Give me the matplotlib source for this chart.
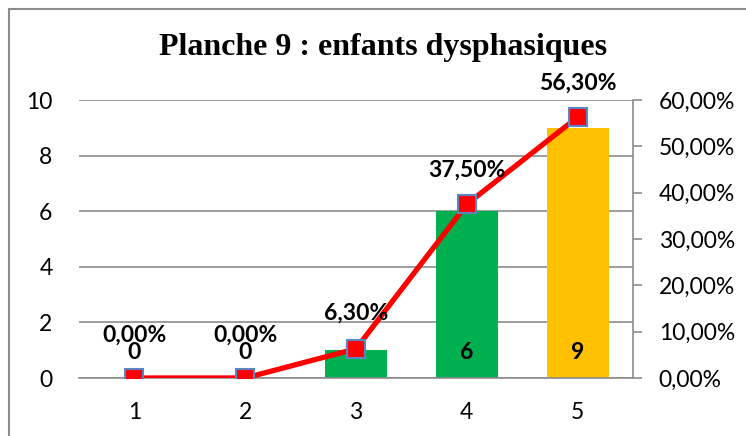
"""Planche 9: bar counts with cumulative percentage line (twin axis)."""

import matplotlib
matplotlib.use("Agg")
import matplotlib.pyplot as plt
from matplotlib.patches import Rectangle
from matplotlib.ticker import FuncFormatter, MultipleLocator

categories = [1, 2, 3, 4, 5]
counts = [0, 0, 1, 6, 9]
percents = [0.0, 0.0, 0.063, 0.375, 0.563]
bar_colors = ["#00B050", "#00B050", "#00B050", "#00B050", "#FFC000"]

TITLE = "Planche 9 : enfants dysphasiques"
GRID = "#8C8C8C"
TICK_FONT = "Lato"
FS = 16.5

# vertical offset (pixels) of each percentage label above its marker
pct_offsets = [43, 43, 36, 34, 34]


def fr_pct(v, _pos=None):
    return f"{v * 100:.2f}%".replace(".", ",")


fig = plt.figure(figsize=(7.46, 4.36), dpi=100)
fig.patches.append(Rectangle((9 / 746, -0.05), 1.1, 0.05 + 1 - 9 / 436,
                             transform=fig.transFigure, fill=False,
                             edgecolor="#8C8C8C", linewidth=1.5))

ax = fig.add_axes([79 / 746, 1 - 378 / 436, (633 - 79) / 746, (378 - 100) / 436])
ax2 = ax.twinx()

ax.bar(categories, counts, width=0.56, color=bar_colors, zorder=2)
ax.set_xlim(0.5, 5.5)
ax.set_ylim(0, 10)
ax.yaxis.set_major_locator(MultipleLocator(2))
ax.grid(axis="y", color=GRID, linewidth=1.2, zorder=0)
ax.set_axisbelow(True)
for side in ("left", "top", "right"):
    ax.spines[side].set_visible(False)
ax.spines["bottom"].set_color(GRID)
ax.spines["bottom"].set_linewidth(1.2)
ax.tick_params(axis="y", length=0, pad=19, labelsize=FS)
ax.tick_params(axis="x", length=0, pad=17, labelsize=FS)
ax.set_xticks(categories)
for lbl in ax.get_xticklabels() + ax.get_yticklabels():
    lbl.set_fontfamily(TICK_FONT)

for x, c in zip(categories, counts):
    ax.annotate(str(c), xy=(x, 0), xytext=(0, 26), textcoords="offset pixels",
                ha="center", va="center", fontsize=FS, fontweight="bold",
                fontfamily=TICK_FONT, zorder=5)

ax2.plot(categories, percents, color="#FF0000", linewidth=3.8, marker="s",
         markersize=13, markerfacecolor="#FF0000", markeredgecolor="#5B85C0",
         markeredgewidth=1.5, zorder=4)
ax2.set_ylim(0, 0.6)
ax2.yaxis.set_major_locator(MultipleLocator(0.1))
ax2.yaxis.set_major_formatter(FuncFormatter(fr_pct))
for side in ("left", "top", "bottom"):
    ax2.spines[side].set_visible(False)
ax2.spines["right"].set_color(GRID)
ax2.spines["right"].set_linewidth(1.2)
ax2.tick_params(axis="y", direction="out", length=6.5, width=1.2, color=GRID,
                pad=12, labelsize=FS)
for lbl in ax2.get_yticklabels():
    lbl.set_fontfamily(TICK_FONT)

for x, p, off in zip(categories, percents, pct_offsets):
    ax2.annotate(fr_pct(p), xy=(x, p), xytext=(0, off), textcoords="offset pixels",
                 ha="center", va="center", fontsize=FS, fontweight="bold",
                 fontfamily=TICK_FONT, zorder=6)

fig.text(383 / 746, 1 - 48 / 436, TITLE, ha="center", va="center",
         fontsize=23, fontweight="bold", fontfamily="Liberation Serif")

fig.savefig("out.png", dpi=100)
